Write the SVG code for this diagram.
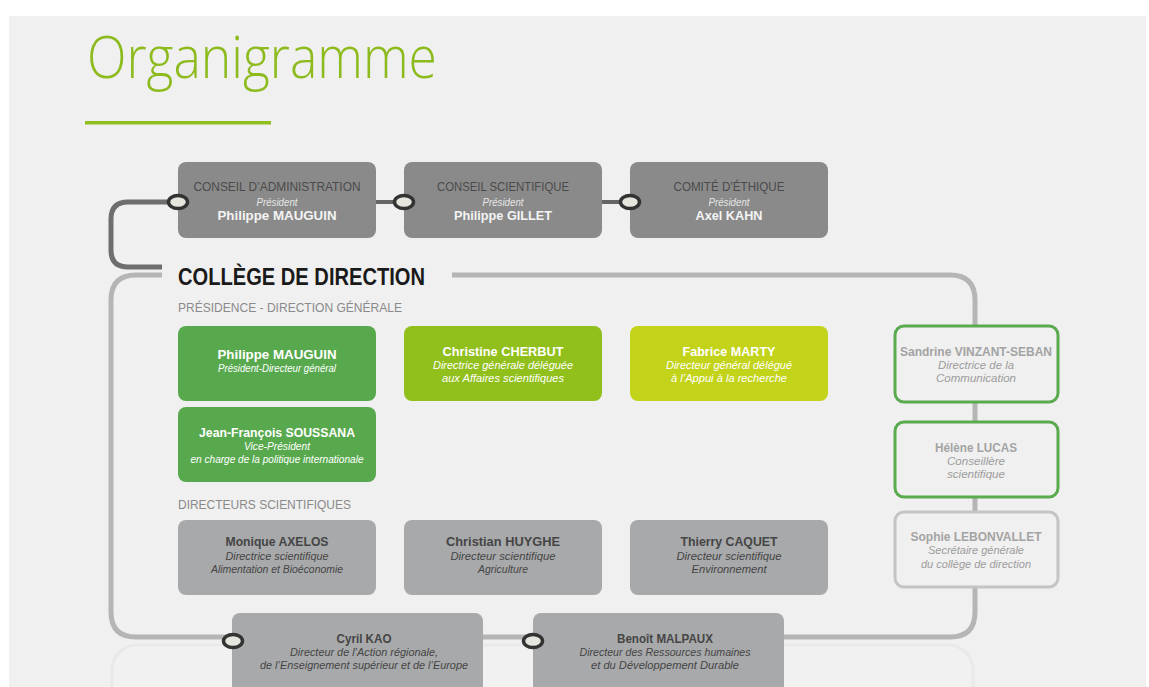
<svg xmlns="http://www.w3.org/2000/svg" width="1149" height="687" viewBox="0 0 1149 687">
<style>
text{font-family:"Liberation Sans",Arial,sans-serif;text-anchor:middle}
.hd{font-size:12px;fill:#4a4a4a}
.pr{font-size:11px;font-style:italic;fill:#e6e6e6}
.nm{font-size:12.5px;font-weight:bold;fill:#f4f4f4}
.wn{font-size:12.5px;font-weight:bold;fill:#ffffff}
.wi{font-size:11px;font-style:italic;fill:#ffffff}
.gn{font-size:12.5px;font-weight:bold;fill:#454545}
.gi{font-size:11px;font-style:italic;fill:#454545}
.ln{font-size:12.5px;font-weight:bold;fill:#a3a3a3}
.li{font-size:11px;font-style:italic;fill:#9c9c9c}
.sec{font-size:13.5px;fill:#8a8a8a;text-anchor:start}
.dk{fill:#8a8a8a}
.gr{fill:#a8a9aa}
.port{fill:#e6e6df;stroke:#333;stroke-width:3.5}
</style>
<rect x="0" y="0" width="1149" height="687" fill="#ffffff"/>
<rect x="9" y="16" width="1137" height="671" fill="#f0f0f0"/>
<text x="87" y="78" style="font-family:'Open Sans','Liberation Sans',sans-serif;font-weight:300;font-size:58px;fill:#8dbb1e;text-anchor:start" textLength="350" lengthAdjust="spacingAndGlyphs">Organigramme</text>
<rect x="85" y="121" width="186" height="3.5" fill="#8fbe1e"/>

<g id="connectors" fill="none">
  <rect x="112" y="645" width="861" height="80" rx="25" stroke="#e9e9e9" stroke-width="3" fill="#f1f1f1"/>
  <path d="M452 275 H950 Q975 275 975 300 V612 Q975 637 950 637 H136 Q111 637 111 612 V300 Q111 275 136 275 H162" stroke="#b5b5b5" stroke-width="5"/>
  <path d="M178 202 H128 Q111 202 111 219 V250 Q111 267 128 267 H162" stroke="#6e6e6e" stroke-width="5"/>
  <line x1="376" y1="202" x2="404" y2="202" stroke="#666" stroke-width="4"/>
  <line x1="602" y1="202" x2="630" y2="202" stroke="#666" stroke-width="4"/>
</g>

<text x="178" y="285" style="font-size:24px;font-weight:bold;fill:#1a1a1a;text-anchor:start" textLength="247" lengthAdjust="spacingAndGlyphs">COLLÈGE DE DIRECTION</text>
<text class="sec" x="178" y="312" textLength="224" lengthAdjust="spacingAndGlyphs">PRÉSIDENCE - DIRECTION GÉNÉRALE</text>
<text class="sec" x="178" y="509" textLength="173" lengthAdjust="spacingAndGlyphs">DIRECTEURS SCIENTIFIQUES</text>

<g id="ca">
  <rect class="dk" x="178" y="162" width="198" height="76" rx="8"/>
  <text class="hd" x="277" y="191" textLength="167" lengthAdjust="spacingAndGlyphs">CONSEIL D’ADMINISTRATION</text>
  <text class="pr" x="277" y="206" textLength="41" lengthAdjust="spacingAndGlyphs">Président</text>
  <text class="nm" x="277" y="220" textLength="119" lengthAdjust="spacingAndGlyphs">Philippe MAUGUIN</text>
</g>
<g id="cs">
  <rect class="dk" x="404" y="162" width="198" height="76" rx="8"/>
  <text class="hd" x="503" y="191" textLength="132" lengthAdjust="spacingAndGlyphs">CONSEIL SCIENTIFIQUE</text>
  <text class="pr" x="503" y="206" textLength="41" lengthAdjust="spacingAndGlyphs">Président</text>
  <text class="nm" x="503" y="220" textLength="98" lengthAdjust="spacingAndGlyphs">Philippe GILLET</text>
</g>
<g id="ce">
  <rect class="dk" x="630" y="162" width="198" height="76" rx="8"/>
  <text class="hd" x="729" y="191" textLength="111" lengthAdjust="spacingAndGlyphs">COMITÉ D’ÉTHIQUE</text>
  <text class="pr" x="729" y="206" textLength="41" lengthAdjust="spacingAndGlyphs">Président</text>
  <text class="nm" x="729" y="220" textLength="67" lengthAdjust="spacingAndGlyphs">Axel KAHN</text>
</g>

<g id="mauguin">
  <rect x="178" y="326" width="198" height="75" rx="8" fill="#58a94e"/>
  <text class="wn" x="277" y="359" textLength="119" lengthAdjust="spacingAndGlyphs">Philippe MAUGUIN</text>
  <text class="wi" x="277" y="372" textLength="118" lengthAdjust="spacingAndGlyphs">Président-Directeur général</text>
</g>
<g id="cherbut">
  <rect x="404" y="326" width="198" height="75" rx="8" fill="#91bf1c"/>
  <text class="wn" x="503" y="356" textLength="121" lengthAdjust="spacingAndGlyphs">Christine CHERBUT</text>
  <text class="wi" x="503" y="369" textLength="140" lengthAdjust="spacingAndGlyphs">Directrice générale déléguée</text>
  <text class="wi" x="503" y="382" textLength="122" lengthAdjust="spacingAndGlyphs">aux Affaires scientifiques</text>
</g>
<g id="marty">
  <rect x="630" y="326" width="198" height="75" rx="8" fill="#c3d31a"/>
  <text class="wn" x="729" y="356" textLength="93" lengthAdjust="spacingAndGlyphs">Fabrice MARTY</text>
  <text class="wi" x="729" y="369" textLength="126" lengthAdjust="spacingAndGlyphs">Directeur général délégué</text>
  <text class="wi" x="729" y="382" textLength="116" lengthAdjust="spacingAndGlyphs">à l’Appui à la recherche</text>
</g>
<g id="soussana">
  <rect x="178" y="407" width="198" height="75" rx="8" fill="#58a94e"/>
  <text class="wn" x="277" y="437" textLength="156" lengthAdjust="spacingAndGlyphs">Jean-François SOUSSANA</text>
  <text class="wi" x="277" y="450" textLength="66" lengthAdjust="spacingAndGlyphs">Vice-Président</text>
  <text class="wi" x="277" y="463" textLength="173" lengthAdjust="spacingAndGlyphs">en charge de la politique internationale</text>
</g>

<g id="axelos">
  <rect class="gr" x="178" y="520" width="198" height="75" rx="8"/>
  <text class="gn" x="277" y="546" textLength="103" lengthAdjust="spacingAndGlyphs">Monique AXELOS</text>
  <text class="gi" x="277" y="560" textLength="103" lengthAdjust="spacingAndGlyphs">Directrice scientifique</text>
  <text class="gi" x="277" y="573" textLength="132" lengthAdjust="spacingAndGlyphs">Alimentation et Bioéconomie</text>
</g>
<g id="huyghe">
  <rect class="gr" x="404" y="520" width="198" height="75" rx="8"/>
  <text class="gn" x="503" y="546" textLength="114" lengthAdjust="spacingAndGlyphs">Christian HUYGHE</text>
  <text class="gi" x="503" y="560" textLength="105" lengthAdjust="spacingAndGlyphs">Directeur scientifique</text>
  <text class="gi" x="503" y="573" textLength="50" lengthAdjust="spacingAndGlyphs">Agriculture</text>
</g>
<g id="caquet">
  <rect class="gr" x="630" y="520" width="198" height="75" rx="8"/>
  <text class="gn" x="729" y="546" textLength="97" lengthAdjust="spacingAndGlyphs">Thierry CAQUET</text>
  <text class="gi" x="729" y="560" textLength="105" lengthAdjust="spacingAndGlyphs">Directeur scientifique</text>
  <text class="gi" x="729" y="573" textLength="75" lengthAdjust="spacingAndGlyphs">Environnement</text>
</g>

<g id="vinzant">
  <rect x="895" y="326" width="163" height="76" rx="9" fill="#f0f0f0" stroke="#5aab4f" stroke-width="3"/>
  <text class="ln" x="976" y="356" textLength="152" lengthAdjust="spacingAndGlyphs">Sandrine VINZANT-SEBAN</text>
  <text class="li" x="976" y="369" textLength="76" lengthAdjust="spacingAndGlyphs">Directrice de la</text>
  <text class="li" x="976" y="382" textLength="80" lengthAdjust="spacingAndGlyphs">Communication</text>
</g>
<g id="lucas">
  <rect x="895" y="422" width="163" height="75" rx="9" fill="#f0f0f0" stroke="#5aab4f" stroke-width="3"/>
  <text class="ln" x="976" y="452" textLength="82" lengthAdjust="spacingAndGlyphs">Hélène LUCAS</text>
  <text class="li" x="976" y="465" textLength="58" lengthAdjust="spacingAndGlyphs">Conseillère</text>
  <text class="li" x="976" y="478" textLength="58" lengthAdjust="spacingAndGlyphs">scientifique</text>
</g>
<g id="lebonvallet">
  <rect x="895" y="512" width="163" height="75" rx="9" fill="#f0f0f0" stroke="#c4c4c4" stroke-width="3"/>
  <text class="ln" x="976" y="541" textLength="131" lengthAdjust="spacingAndGlyphs">Sophie LEBONVALLET</text>
  <text class="li" x="976" y="554" textLength="96" lengthAdjust="spacingAndGlyphs">Secrétaire générale</text>
  <text class="li" x="976" y="568" textLength="110" lengthAdjust="spacingAndGlyphs">du collège de direction</text>
</g>

<g id="kao">
  <rect class="gr" x="232" y="613" width="251" height="90" rx="8"/>
  <text class="gn" x="364" y="643" textLength="55" lengthAdjust="spacingAndGlyphs">Cyril KAO</text>
  <text class="gi" x="364" y="656" textLength="148" lengthAdjust="spacingAndGlyphs">Directeur de l’Action régionale,</text>
  <text class="gi" x="364" y="669" textLength="208" lengthAdjust="spacingAndGlyphs">de l’Enseignement supérieur et de l’Europe</text>
</g>
<g id="malpaux">
  <rect class="gr" x="533" y="613" width="251" height="90" rx="8"/>
  <text class="gn" x="665" y="643" textLength="96" lengthAdjust="spacingAndGlyphs">Benoît MALPAUX</text>
  <text class="gi" x="665" y="656" textLength="171" lengthAdjust="spacingAndGlyphs">Directeur des Ressources humaines</text>
  <text class="gi" x="665" y="669" textLength="148" lengthAdjust="spacingAndGlyphs">et du Développement Durable</text>
</g>

<g id="ports">
  <ellipse class="port" cx="178" cy="202" rx="9.5" ry="6.5"/>
  <ellipse class="port" cx="404" cy="202" rx="9.5" ry="6.5"/>
  <ellipse class="port" cx="630" cy="202" rx="9.5" ry="6.5"/>
  <ellipse class="port" cx="233" cy="641" rx="9.5" ry="6.5"/>
  <ellipse class="port" cx="533" cy="641" rx="9.5" ry="6.5"/>
</g>
</svg>
